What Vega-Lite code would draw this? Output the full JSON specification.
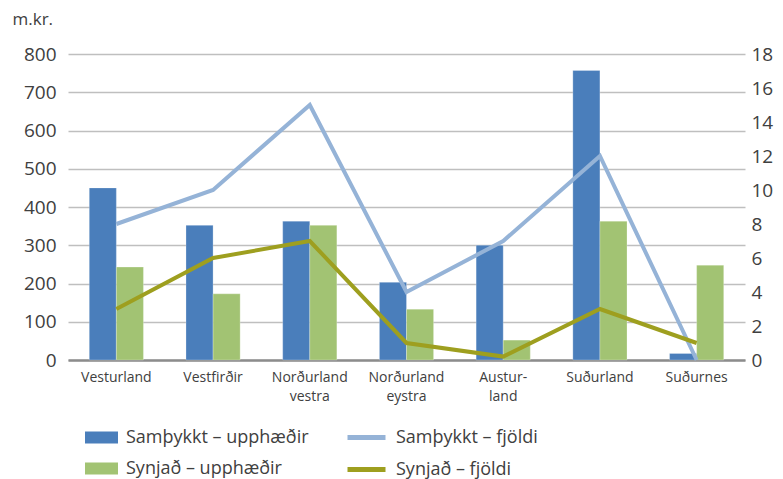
{
  "$schema": "https://vega.github.io/schema/vega-lite/v6.json",
  "autosize": {"type": "none"},
  "width": 677,
  "height": 306,
  "padding": {"left": 68, "top": 54, "right": 38, "bottom": 119},
  "background": "white",
  "config": {
    "font": "Open Sans",
    "view": {"stroke": null},
    "axis": {"labelFont": "Open Sans", "titleFont": "Open Sans", "labelColor": "#404040", "titleColor": "#404040"},
    "legend": {"labelFont": "Open Sans", "labelLimit": 0}
  },
  "datasets": {
    "bars": [
      {"region": "Vesturland", "series": "Samþykkt – upphæðir", "amount": 450},
      {"region": "Vesturland", "series": "Synjað – upphæðir", "amount": 243},
      {"region": "Vestfirðir", "series": "Samþykkt – upphæðir", "amount": 352},
      {"region": "Vestfirðir", "series": "Synjað – upphæðir", "amount": 173},
      {"region": "Norðurland vestra", "series": "Samþykkt – upphæðir", "amount": 363},
      {"region": "Norðurland vestra", "series": "Synjað – upphæðir", "amount": 352},
      {"region": "Norðurland eystra", "series": "Samþykkt – upphæðir", "amount": 203},
      {"region": "Norðurland eystra", "series": "Synjað – upphæðir", "amount": 133},
      {"region": "Austurland", "series": "Samþykkt – upphæðir", "amount": 300},
      {"region": "Austurland", "series": "Synjað – upphæðir", "amount": 52},
      {"region": "Suðurland", "series": "Samþykkt – upphæðir", "amount": 757},
      {"region": "Suðurland", "series": "Synjað – upphæðir", "amount": 363},
      {"region": "Suðurnes", "series": "Samþykkt – upphæðir", "amount": 17},
      {"region": "Suðurnes", "series": "Synjað – upphæðir", "amount": 248}
    ],
    "lines": [
      {"region": "Vesturland", "series": "Samþykkt – fjöldi", "count": 8},
      {"region": "Vestfirðir", "series": "Samþykkt – fjöldi", "count": 10},
      {"region": "Norðurland vestra", "series": "Samþykkt – fjöldi", "count": 15},
      {"region": "Norðurland eystra", "series": "Samþykkt – fjöldi", "count": 4},
      {"region": "Austurland", "series": "Samþykkt – fjöldi", "count": 7},
      {"region": "Suðurland", "series": "Samþykkt – fjöldi", "count": 12},
      {"region": "Suðurnes", "series": "Samþykkt – fjöldi", "count": 0},
      {"region": "Vesturland", "series": "Synjað – fjöldi", "count": 3},
      {"region": "Vestfirðir", "series": "Synjað – fjöldi", "count": 6},
      {"region": "Norðurland vestra", "series": "Synjað – fjöldi", "count": 7},
      {"region": "Norðurland eystra", "series": "Synjað – fjöldi", "count": 1},
      {"region": "Austurland", "series": "Synjað – fjöldi", "count": 0.2},
      {"region": "Suðurland", "series": "Synjað – fjöldi", "count": 3},
      {"region": "Suðurnes", "series": "Synjað – fjöldi", "count": 1}
    ]
  },
  "encoding": {
    "x": {
      "field": "region",
      "type": "nominal",
      "sort": ["Vesturland", "Vestfirðir", "Norðurland vestra", "Norðurland eystra", "Austurland", "Suðurland", "Suðurnes"],
      "scale": {"paddingInner": 0.44, "paddingOuter": 0.22},
      "axis": {
        "title": null,
        "labelAngle": 0,
        "labelFontSize": 14,
        "labelPadding": 10,
        "labelLineHeight": 19,
        "ticks": false,
        "domainColor": "#8c8c8c",
        "domainWidth": 2.5,
        "labelExpr": "datum.value == 'Norðurland vestra' ? ['Norðurland', 'vestra'] : datum.value == 'Norðurland eystra' ? ['Norðurland', 'eystra'] : datum.value == 'Austurland' ? ['Austur-', 'land'] : datum.value"
      }
    }
  },
  "layer": [
    {
      "data": {"name": "bars"},
      "mark": {"type": "bar", "stroke": "#ffffff", "strokeWidth": 0.5, "strokeOpacity": 0.5},
      "encoding": {
        "xOffset": {"field": "series", "type": "nominal", "sort": ["Samþykkt – upphæðir", "Synjað – upphæðir"], "scale": {"paddingInner": 0}},
        "y": {
          "field": "amount",
          "type": "quantitative",
          "scale": {"domain": [0, 800]},
          "axis": {
            "title": "m.kr.",
            "titleAngle": 0,
            "titleAlign": "left",
            "titleBaseline": "middle",
            "titleX": -56,
            "titleY": -35,
            "titleFontSize": 17,
            "titleFontWeight": "normal",
            "values": [0, 100, 200, 300, 400, 500, 600, 700, 800],
            "labelFontSize": 19,
            "labelPadding": 12,
            "ticks": false,
            "domain": false,
            "gridColor": "#bfbfbf",
            "gridWidth": 1.5
          }
        },
        "color": {
          "field": "series",
          "type": "nominal",
          "scale": {"domain": ["Samþykkt – upphæðir", "Synjað – upphæðir"], "range": ["#4a7ebb", "#a2c373"]},
          "legend": {
            "title": null,
            "orient": "none",
            "legendX": 17,
            "legendY": 367,
            "symbolType": "M-1,-0.36H1V0.36H-1Z",
            "symbolSize": 1089,
            "symbolStrokeWidth": 0,
            "labelFontSize": 18,
            "labelColor": "#404040",
            "labelOffset": 8,
            "rowPadding": 5
          }
        }
      }
    },
    {
      "data": {"name": "lines"},
      "mark": {"type": "line", "strokeWidth": 4},
      "encoding": {
        "y": {
          "field": "count",
          "type": "quantitative",
          "scale": {"domain": [0, 18]},
          "axis": {
            "orient": "right",
            "title": null,
            "values": [0, 2, 4, 6, 8, 10, 12, 14, 16, 18],
            "labelFontSize": 19,
            "labelPadding": 6,
            "ticks": false,
            "domain": false,
            "grid": false
          }
        },
        "stroke": {
          "field": "series",
          "type": "nominal",
          "scale": {"domain": ["Samþykkt – fjöldi", "Synjað – fjöldi"], "range": ["#95b3d7", "#9e9f1f"]},
          "legend": {
            "title": null,
            "orient": "none",
            "legendX": 277,
            "legendY": 362,
            "symbolType": "stroke",
            "symbolSize": 1444,
            "symbolStrokeWidth": 5,
            "labelFontSize": 18,
            "labelColor": "#404040",
            "labelOffset": 8,
            "rowPadding": -8
          }
        }
      }
    }
  ],
  "resolve": {"scale": {"y": "independent", "color": "independent"}}
}
